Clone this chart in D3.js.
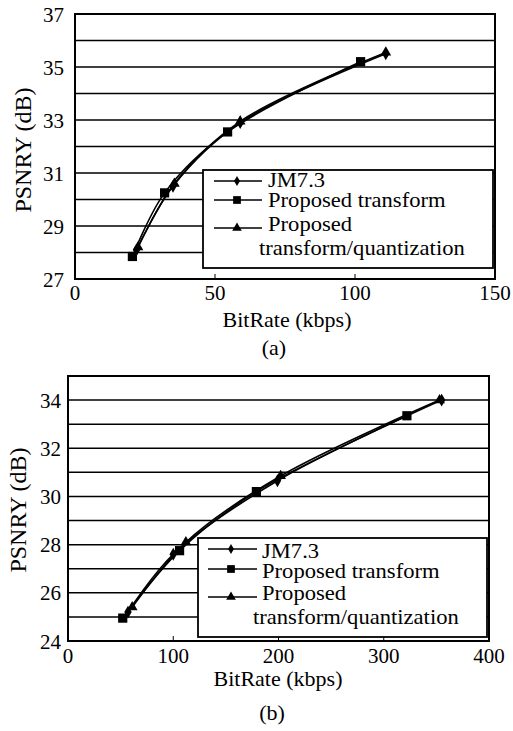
<!DOCTYPE html>
<html><head><meta charset="utf-8"><script src="https://cdn.jsdelivr.net/npm/d3@7"></script></head>
<body style="margin:0">
<svg id="s" width="513" height="731"></svg>
<script>
var seriesNames = ["JM7.3", "Proposed transform", "Proposed transform/quantization"];

// panel (a)
var rateA_jm  = [22, 35, 59, 111],
    psnrA_jm  = [28.1, 30.5, 32.9, 35.5];
var rateA_pt  = [20.5, 32, 54.5, 102],
    psnrA_pt  = [27.85, 30.25, 32.55, 35.2];
var rateA_ptq = [22.5, 35.5, 59, 111],
    psnrA_ptq = [28.2, 30.6, 32.95, 35.55];
var xTicksA = [0, 50, 100, 150],
    yTicksA = [27, 29, 31, 33, 35, 37];

// panel (b)
var rateB_jm  = [57, 100, 199, 355],
    psnrB_jm  = [25.2, 27.6, 30.65, 34.0];
var rateB_pt  = [52, 106, 179, 322],
    psnrB_pt  = [24.95, 27.75, 30.2, 33.35];
var rateB_ptq = [61, 112, 202, 353],
    psnrB_ptq = [25.4, 28.1, 30.85, 34.0];
var xTicksB = [0, 100, 200, 300, 400],
    yTicksB = [24, 26, 28, 30, 32, 34];

function zip(xs, ys) { return xs.map(function(x, i) { return {x: x, y: ys[i]}; }); }

var symbols = [d3.symbolDiamond, d3.symbolSquare, d3.symbolTriangle],
    symSize = [48, 85, 50],
    legSize = [30, 60, 40];

var svg = d3.select("#s");

function label(sel, size) {
  return sel.attr("font-family", "Liberation Serif")
      .style("font-family", "Liberation Serif")
      .attr("font-size", size)
      .style("font-size", size + "px");
}

function panel(p) {
  var x = d3.scaleLinear().domain(p.xDomain).range([p.left, p.right]);
  var y = d3.scaleLinear().domain(p.yDomain).range([p.bottom, p.top]);
  var g = svg.append("g");

  // horizontal grid every 1 dB
  g.selectAll(".grid")
      .data(d3.range(p.yDomain[0] + 1, p.yDomain[1]))
    .enter().append("line")
      .attr("x1", p.left).attr("x2", p.right)
      .attr("y1", function(d) { return y(d); })
      .attr("y2", function(d) { return y(d); })
      .attr("stroke", "#000")
      .attr("stroke-width", 1.5);

  // small inward ticks on x
  g.selectAll(".xt")
      .data(p.xTicks.slice(1, -1))
    .enter().append("line")
      .attr("x1", function(d) { return x(d); })
      .attr("x2", function(d) { return x(d); })
      .attr("y1", p.bottom).attr("y2", p.bottom - 5)
      .attr("stroke", "#000").attr("stroke-width", 1);

  var line = d3.line()
      .x(function(d) { return x(d.x); })
      .y(function(d) { return y(d.y); })
      .curve(d3.curveCatmullRom.alpha(0.5));

  p.series.forEach(function(s, i) {
    g.append("path")
        .datum(s)
        .attr("d", line)
        .attr("fill", "none")
        .attr("stroke", "#000")
        .attr("stroke-width", 1.6);
    g.selectAll(".m" + i)
        .data(s)
      .enter().append("path")
        .attr("transform", function(d) { return "translate(" + x(d.x) + "," + y(d.y) + ")"; })
        .attr("d", d3.symbol().type(symbols[i]).size(symSize[i]))
        .attr("fill", "#000");
  });

  // frame
  g.append("rect")
      .attr("x", p.left).attr("y", p.top)
      .attr("width", p.right - p.left).attr("height", p.bottom - p.top)
      .attr("fill", "none").attr("stroke", "#000").attr("stroke-width", 2);

  // tick labels
  label(g.selectAll(".yl")
      .data(p.yTicks)
    .enter().append("text")
      .attr("x", p.left - p.yLabelGap)
      .attr("y", function(d) { return y(d); })
      .attr("dy", "0.36em")
      .attr("text-anchor", "end"), 21)
      .text(function(d) { return d; });

  label(g.selectAll(".xl")
      .data(p.xTicks)
    .enter().append("text")
      .attr("x", function(d) { return x(d); })
      .attr("y", p.xTickBase)
      .attr("text-anchor", "middle"), 21)
      .text(function(d) { return d; });

  label(g.append("text")
      .attr("x", p.xTitleX).attr("y", p.xTitleBase)
      .attr("text-anchor", "middle"), 22)
      .text("BitRate (kbps)");

  label(g.append("text")
      .attr("transform", "translate(" + p.yTitleBase + "," + p.yTitleY + ") rotate(-90)")
      .attr("text-anchor", "middle"), 24)
      .text("PSNRY (dB)");

  label(g.append("text")
      .attr("x", p.capX).attr("y", p.capBase)
      .attr("text-anchor", "middle"), 22)
      .text(p.caption);

  // legend
  var L = p.legend;
  g.append("rect")
      .attr("x", L.x0).attr("y", L.y0)
      .attr("width", L.x1 - L.x0).attr("height", L.y1 - L.y0)
      .attr("fill", "#fff").attr("stroke", "#000").attr("stroke-width", 1.8);

  seriesNames.forEach(function(name, i) {
    g.append("line")
        .attr("x1", L.lx0).attr("x2", L.lx1)
        .attr("y1", L.lineY[i]).attr("y2", L.lineY[i])
        .attr("stroke", "#000").attr("stroke-width", 1.6);
    g.append("path")
        .attr("transform", "translate(" + L.mx + "," + L.lineY[i] + ")")
        .attr("d", d3.symbol().type(symbols[i]).size(legSize[i]))
        .attr("fill", "#000");
  });
  var rows = ["JM7.3", "Proposed transform", "Proposed", "transform/quantization"];
  rows.forEach(function(t, i) {
    label(g.append("text")
        .attr("transform", "translate(" + (i === 3 ? L.tx2 : L.tx) + "," + L.base[i] + ") scale(1.13,1)"), 20)
        .text(t);
  });
}

panel({
  xDomain: [0, 150], yDomain: [27, 37],
  left: 75, right: 495, top: 14, bottom: 279,
  xTicks: xTicksA, yTicks: yTicksA,
  series: [zip(rateA_jm, psnrA_jm), zip(rateA_pt, psnrA_pt), zip(rateA_ptq, psnrA_ptq)],
  yLabelGap: 11, xTickBase: 300,
  xTitleX: 287, xTitleBase: 327,
  yTitleBase: 31, yTitleY: 150,
  capX: 274, capBase: 355, caption: "(a)",
  legend: {x0: 203, y0: 170, x1: 493, y1: 268, lx0: 214, lx1: 262, mx: 237,
           lineY: [181, 200, 228], tx: 268, tx2: 259, base: [187, 207, 231, 255]}
});

panel({
  xDomain: [0, 400], yDomain: [24, 35],
  left: 68, right: 489, top: 376, bottom: 641,
  xTicks: xTicksB, yTicks: yTicksB,
  series: [zip(rateB_jm, psnrB_jm), zip(rateB_pt, psnrB_pt), zip(rateB_ptq, psnrB_ptq)],
  yLabelGap: 7, xTickBase: 663,
  xTitleX: 278, xTitleBase: 686,
  yTitleBase: 26, yTitleY: 510,
  capX: 272, capBase: 720, caption: "(b)",
  legend: {x0: 198, y0: 538, x1: 487, y1: 637, lx0: 208, lx1: 257, mx: 231,
           lineY: [549, 569, 597], tx: 262, tx2: 253, base: [558, 578, 600, 624]}
});
</script></body></html>
